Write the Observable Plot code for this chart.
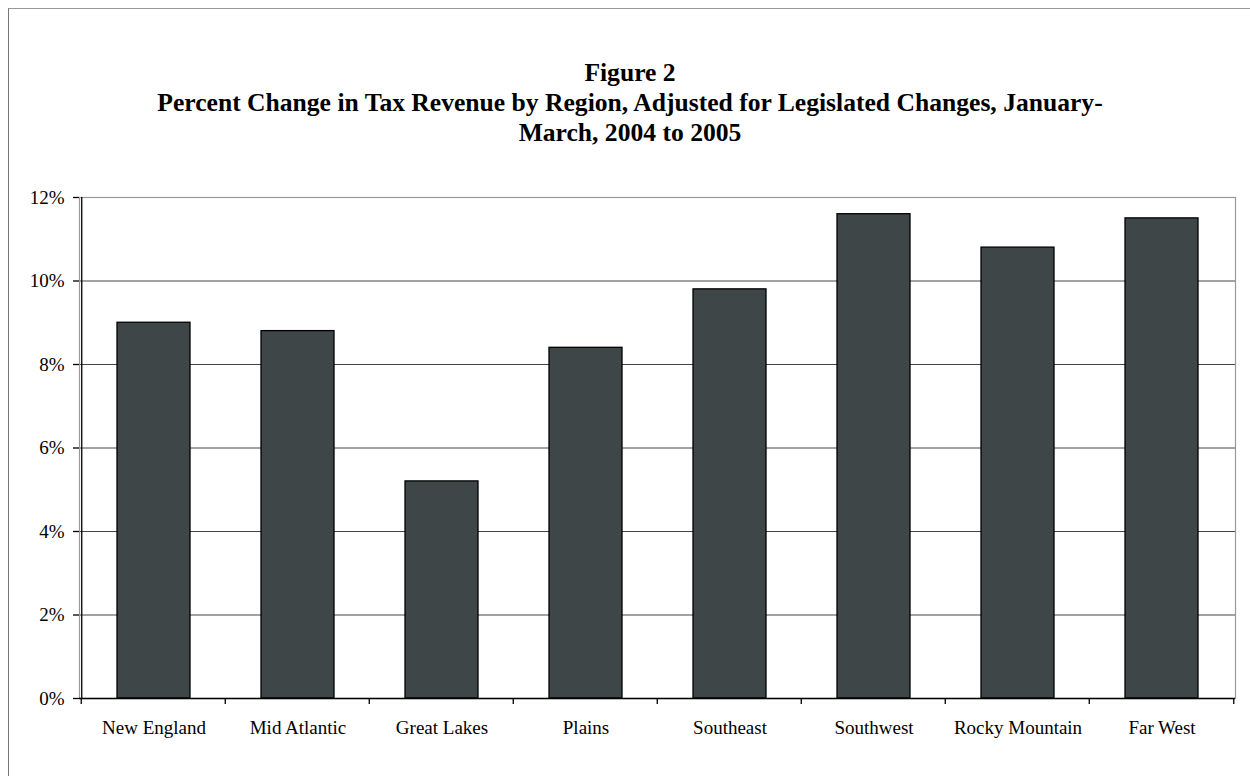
<!DOCTYPE html>
<html>
<head>
<meta charset="utf-8">
<script src="https://cdn.jsdelivr.net/npm/d3@7"></script>
<script src="https://cdn.jsdelivr.net/npm/@observablehq/plot@0.6"></script>
<style>
  html, body { margin: 0; padding: 0; background: #fff; }
  #wrap { position: relative; width: 1250px; height: 776px; overflow: hidden; font-family: "Liberation Serif", "Times New Roman", serif; }
  #frame { position: absolute; left: 8px; top: 8px; width: 1300px; height: 800px; border-left: 1px solid #777; border-top: 1px solid #999; box-sizing: border-box; }
  #title { position: absolute; left: 0; top: 58px; width: 1260px; text-align: center; font-weight: bold; font-size: 25.6px; line-height: 30px; color: #000; }
  #chart { position: absolute; left: 0; top: 0; }
</style>
</head>
<body>
<div id="wrap">
  <div id="frame"></div>
  <div id="chart"></div>
  <div id="title">Figure 2<br>Percent Change in Tax Revenue by Region, Adjusted for Legislated Changes, January-<br>March, 2004 to 2005</div>
</div>
<script>
const regions = ["New England", "Mid Atlantic", "Great Lakes", "Plains", "Southeast", "Southwest", "Rocky Mountain", "Far West"];
const changes = [9.0, 8.8, 5.2, 8.4, 9.8, 11.6, 10.8, 11.5];
const yTicks = [0, 2, 4, 6, 8, 10, 12];
const gridValues = [2, 4, 6, 8, 10];

const data = regions.map((r, i) => ({region: r, value: changes[i]}));

const W = 1250, H = 776;
const mL = 79, mR = 15, mT = 197, mB = 78;
const step = (W - mL - mR) / regions.length;
const pad = 0.495;

const chart = Plot.plot({
  width: W,
  height: H,
  marginLeft: mL,
  marginRight: mR,
  marginTop: mT,
  marginBottom: mB,
  style: {fontFamily: "Liberation Serif, Times New Roman, serif", fontSize: "19px", color: "#000", background: "transparent"},
  x: {domain: regions, paddingInner: pad, paddingOuter: pad / 2, label: null},
  y: {domain: [0, 12], label: null},
  marks: [
    Plot.ruleY(gridValues, {stroke: "#444", strokeWidth: 1}),
    Plot.frame({stroke: "#999", strokeWidth: 1.2}),
    Plot.barY(data, {x: "region", y: "value", fill: "#3e4647", stroke: "#000", strokeWidth: 1.3}),
    Plot.ruleY([0], {stroke: "#000", strokeWidth: 1.3}),
    Plot.ruleX([regions[0]], {x: d => d, stroke: "#000", strokeWidth: 1.3, dx: -step / 2}),
    Plot.axisY({ticks: yTicks, tickFormat: d => d + "%", tickSize: 6, tickPadding: 9, stroke: "#000", strokeWidth: 1.3, fontSize: 19}),
    Plot.axisX({tickSize: 0, tickPadding: 22, fontSize: 19})
  ]
});
document.getElementById("chart").appendChild(chart);

// band-boundary tick marks under the x axis, derived from the x scale
const xs = chart.scale("x");
const ys = chart.scale("y");
const y0 = ys.apply(0);
const tickPos = regions.map(r => xs.apply(r) + xs.bandwidth / 2 - step / 2);
tickPos.push(xs.apply(regions[regions.length - 1]) + xs.bandwidth / 2 + step / 2);
d3.select(chart).append("g")
  .selectAll("line")
  .data(tickPos)
  .join("line")
  .attr("x1", d => d).attr("x2", d => d)
  .attr("y1", y0).attr("y2", y0 + 6)
  .attr("stroke", "#000").attr("stroke-width", 1.3);
</script>
</body>
</html>
